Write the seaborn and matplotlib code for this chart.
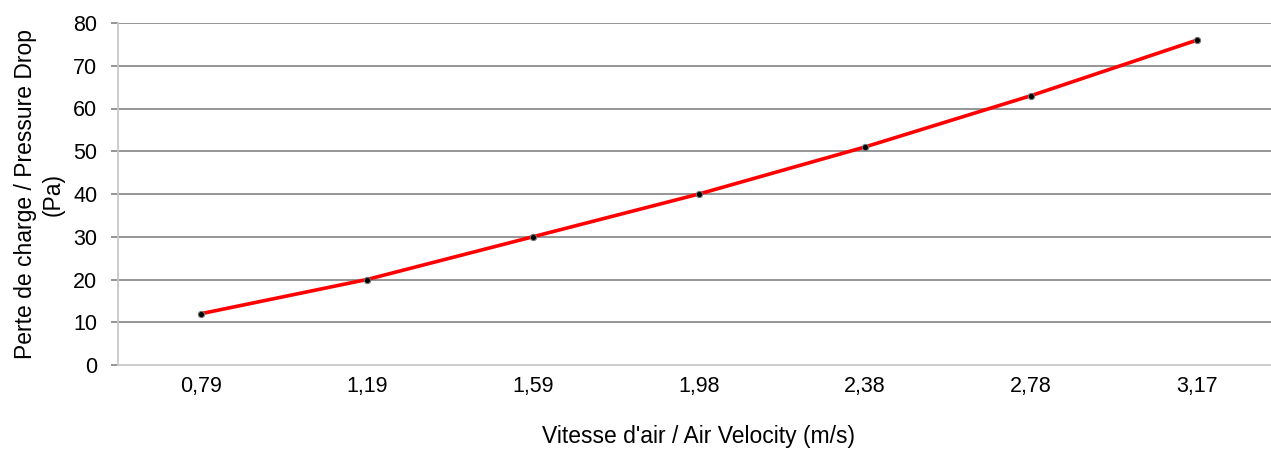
import matplotlib
matplotlib.use('Agg')
import matplotlib.pyplot as plt
import seaborn as sns
import pandas as pd

# data
velocity_labels = ['0,79', '1,19', '1,59', '1,98', '2,38', '2,78', '3,17']
pressure_drop = [12, 20, 30, 40, 51, 63, 76]
y_ticks = [0, 10, 20, 30, 40, 50, 60, 70, 80]

df = pd.DataFrame({'pos': range(len(velocity_labels)), 'Pa': pressure_drop})

sns.set_theme(style='white')
plt.rcParams['font.family'] = ['Liberation Sans', 'DejaVu Sans']
plt.rcParams['text.color'] = 'black'
plt.rcParams['axes.labelcolor'] = 'black'

fig = plt.figure(figsize=(12.71, 4.5), dpi=100)
W, H = 1271, 450
ax = fig.add_axes([118 / W, 85 / H, (1280 - 118) / W, (365 - 23) / H])

# grid lines
for t in y_ticks[1:]:
    ax.axhline(t, color='#8c8c8c', lw=1.3, zorder=1)

sns.lineplot(data=df, x='pos', y='Pa', color='#ff0000', lw=2.6, ax=ax, zorder=3)
ax.scatter(df['pos'], df['Pa'], s=20, color='black', zorder=4, edgecolors='#777777', linewidths=0.8)

ax.set_xlim(-0.5, len(velocity_labels) - 0.5)
ax.set_ylim(0, 80)
ax.set_xticks(range(len(velocity_labels)))
ax.set_xticklabels(velocity_labels)
ax.set_yticks(y_ticks)

for s in ['top', 'right']:
    ax.spines[s].set_visible(False)
ax.spines['left'].set_color('#c8c8c8')
ax.spines['bottom'].set_color('#c8c8c8')
ax.spines['left'].set_linewidth(1.3)
ax.spines['bottom'].set_linewidth(1.3)

ax.tick_params(axis='y', length=5, width=1.3, color='#8c8c8c', labelcolor='black', labelsize=15.5, pad=10, left=True)
ax.tick_params(axis='x', length=0, labelcolor='black', labelsize=15.5, pad=8)

ax.set_xlabel("Vitesse d'air / Air Velocity (m/s)", fontsize=16.5, labelpad=20, color='black')
ax.set_ylabel('Perte de charge / Pressure Drop\n(Pa)', fontsize=16.5, labelpad=6, linespacing=1.25, color='black')

fig.savefig('out.png', dpi=100)
